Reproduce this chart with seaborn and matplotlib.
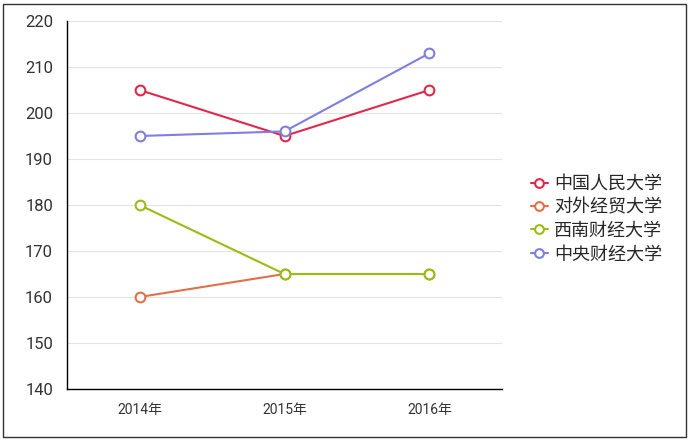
import pandas as pd
import matplotlib
matplotlib.use('Agg')
import matplotlib.pyplot as plt
import matplotlib.patches as mpatches
import seaborn as sns

# data
years = ['2014年', '2015年', '2016年']
schools = ['中国人民大学', '对外经贸大学', '西南财经大学', '中央财经大学']
renmin = [205, 195, 205]
duiwai = [160, 165, 165]
xinan = [180, 165, 165]
zhongyang = [195, 196, 213]
colors = ['#e0294a', '#e0704a', '#9cbb14', '#7f7fdf']

rows = []
for name, vals in zip(schools, [renmin, duiwai, xinan, zhongyang]):
    for y, v in zip(years, vals):
        rows.append({'year': y, 'score': v, 'school': name})
df = pd.DataFrame(rows)

sns.set_style('white')
plt.rcParams['font.family'] = ['Roboto', 'Noto Sans CJK SC', 'DejaVu Sans']

fig = plt.figure(figsize=(6.91, 4.41), dpi=100)
ax = fig.add_axes([67 / 691, 1 - 389 / 441, (502 - 67) / 691, (389 - 21) / 441])

sns.lineplot(data=df, x='year', y='score', hue='school', palette=colors,
             marker='o', linewidth=1.5, markersize=7, legend=False, ax=ax)

for line, c in zip(ax.lines, colors):
    line.set_markerfacecolor('white')
    line.set_markeredgecolor(c)
    line.set_markeredgewidth(1.5)

ax.set_xlim(-0.5, 2.5)
ax.set_ylim(140, 220)
ax.set_yticks(range(140, 221, 10))
ax.set_xlabel('')
ax.set_ylabel('')
ax.grid(axis='y', color='#e3e3e3', linewidth=0.8)
ax.set_axisbelow(True)
sns.despine(ax=ax)
for s in ['left', 'bottom']:
    ax.spines[s].set_color('black')
    ax.spines[s].set_linewidth(1)
ax.tick_params(axis='both', direction='out', length=6, width=1, color='black',
               labelcolor='#333333')
ax.tick_params(axis='y', labelsize=12, pad=4)
ax.tick_params(axis='x', labelsize=10, pad=4)

fig.legend(handles=ax.lines[:4], labels=schools, loc='center left',
           bbox_to_anchor=(515 / 691, 1 - 219 / 441), frameon=False,
           prop={'family': ['Noto Sans CJK SC', 'DejaVu Sans'], 'size': 13},
           handlelength=0.9, handletextpad=0.35, labelspacing=0.3,
           markerscale=0.9)

fig.patches.append(mpatches.Rectangle((3 / 691, 4 / 441), 683 / 691, 433 / 441,
                                      transform=fig.transFigure, fill=False,
                                      edgecolor='#333333', linewidth=1))

fig.savefig('out.png', dpi=100)
